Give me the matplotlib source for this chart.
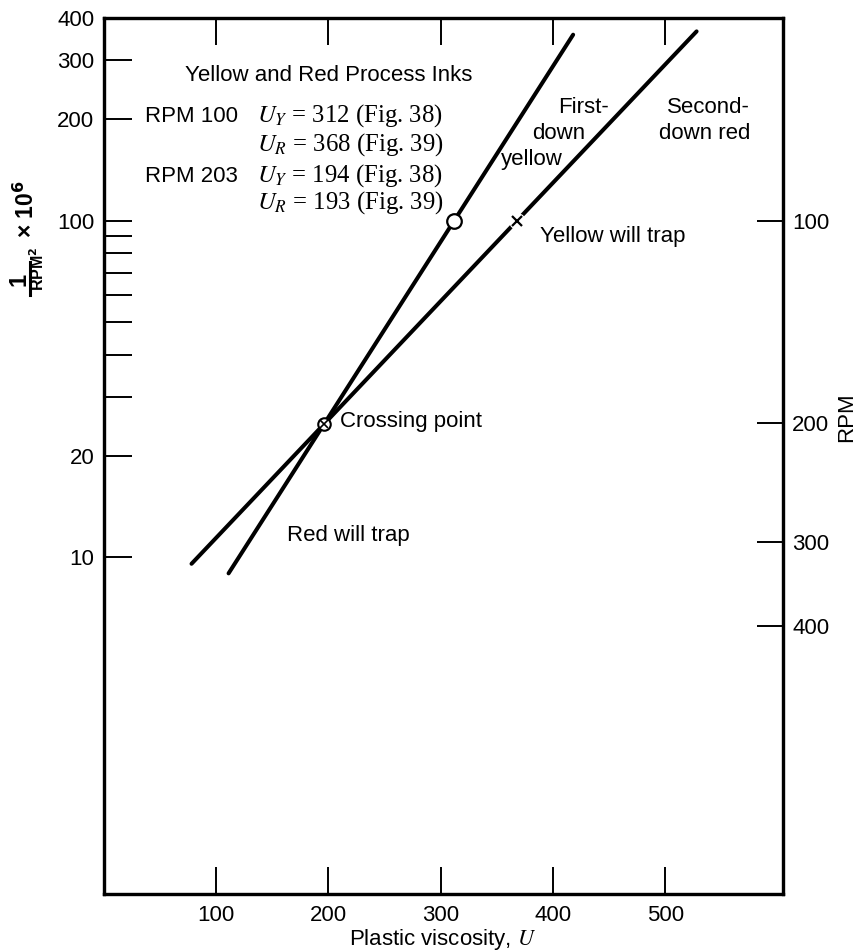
import numpy as np
import matplotlib
matplotlib.use("Agg")
import matplotlib.pyplot as plt
from matplotlib.lines import Line2D
from matplotlib.ticker import FixedLocator, FixedFormatter, NullLocator

plt.rcParams['font.family'] = ['Liberation Sans', 'DejaVu Sans']

# Plastic viscosity (U) of the two process inks at the two test speeds
rpm_levels = [100, 203]
u_yellow = [312, 194]
u_red = [368, 193]
fig_yellow = [38, 38]
fig_red = [39, 39]

# U range covered by each trend line
yellow_span = [111, 418]
red_span = [78, 528]

# Axis ticks
x_ticks = [100, 200, 300, 400, 500]
left_ticks = [10, 20, 30, 40, 50, 60, 70, 80, 90, 100, 200, 300, 400]
left_labels = ["10", "20", "", "", "", "", "", "", "", "100", "200", "300", "400"]
rpm_ticks = [100, 200, 300, 400]

inv_sq = [1e6 / r ** 2 for r in rpm_levels]

W, H = 861, 951
fig = plt.figure(figsize=(W / 100, H / 100), dpi=100)
ax = fig.add_axes([104 / W, 1 - 894 / H, 679 / W, 876 / H])
ax.set_yscale('log')
ax.set_xlim(0, 605)
ax.set_ylim(1, 400)

ax.set_xticks(x_ticks)
ax.yaxis.set_major_locator(FixedLocator(left_ticks))
ax.yaxis.set_major_formatter(FixedFormatter(left_labels))
ax.yaxis.set_minor_locator(NullLocator())
ax.tick_params(axis='x', direction='in', length=19.5, width=1.4, top=True,
               labeltop=False, pad=8, labelsize=16)
ax.tick_params(axis='y', direction='in', length=20, width=1.4, right=False,
               pad=7, labelsize=16)

# RPM scale on the right, placed at 1e6 / RPM^2
ax2 = ax.twinx()
ax2.set_yscale('log')
ax2.set_ylim(1, 400)
ax2.yaxis.set_major_locator(FixedLocator([1e6 / r ** 2 for r in rpm_ticks]))
ax2.yaxis.set_major_formatter(FixedFormatter([str(r) for r in rpm_ticks]))
ax2.yaxis.set_minor_locator(NullLocator())
ax2.tick_params(axis='y', direction='in', length=19, width=1.4, pad=6.5, labelsize=16)

for a in (ax, ax2):
    for s in a.spines.values():
        s.set_linewidth(2.3)

# Straight lines on the log axis through the two measured points of each ink
ky = np.polyfit(u_yellow, np.log10(inv_sq), 1)
kr = np.polyfit(u_red, np.log10(inv_sq), 1)
ax.plot(yellow_span, 10 ** np.polyval(ky, yellow_span), color='black', lw=2.9,
        solid_capstyle='round', zorder=2)
ax.plot(red_span, 10 ** np.polyval(kr, red_span), color='black', lw=2.9,
        solid_capstyle='round', zorder=2)

# Marks at 100 RPM
ax.plot(u_yellow[0], inv_sq[0], 'o', ms=10.5, mfc='white', mec='black', mew=1.6, zorder=4)
ax.plot(u_red[0], inv_sq[0], 'o', ms=12, mfc='white', mec='none', zorder=3)
ax.plot(u_red[0], inv_sq[0], 'x', ms=7.5, mec='black', mew=1.6, zorder=4)

# Crossing of the two lines
u_cross = (kr[1] - ky[1]) / (ky[0] - kr[0])
v_cross = 10 ** np.polyval(ky, u_cross)
ax.plot(u_cross, v_cross, 'o', ms=9, mfc='white', mec='black', mew=1.5, zorder=4)
ax.plot(u_cross, v_cross, 'x', ms=5.5, mec='black', mew=1.2, zorder=5)

T = ax.transAxes
sans = 16
ax.text(0.3314, 0.9281, "Yellow and Red Process Inks", transform=T, ha='center',
        va='baseline', fontsize=sans)
rows_y = [0.8813, 0.8482, 0.8128, 0.7820]
entries = [(f"RPM {rpm_levels[0]}", "Y", u_yellow[0], fig_yellow[0]),
           ("", "R", u_red[0], fig_red[0]),
           (f"RPM {rpm_levels[1]}", "Y", u_yellow[1], fig_yellow[1]),
           ("", "R", u_red[1], fig_red[1])]
for yy, (lab, sub, u, f) in zip(rows_y, entries):
    if lab:
        ax.text(0.0604, yy, lab, transform=T, ha='left', va='baseline', fontsize=sans)
    ax.text(0.2253, yy, f"$U_{sub}$ = {u} (Fig. {f})", transform=T, ha='left',
            va='baseline', fontsize=17.8, family=['Liberation Serif'],
            math_fontfamily='stix')

ax.text(0.6686, 0.8916, "First-", transform=T, ha='left', va='baseline', fontsize=sans)
ax.text(0.6300, 0.8619, "down", transform=T, ha='left', va='baseline', fontsize=sans)
ax.text(0.5850, 0.8322, "yellow", transform=T, ha='left', va='baseline', fontsize=sans)
ax.text(0.8292, 0.8916, "Second-", transform=T, ha='left', va='baseline', fontsize=sans)
ax.text(0.8174, 0.8619, "down red", transform=T, ha='left', va='baseline', fontsize=sans)
ax.text(0.6421, 0.7443, "Yellow will trap", transform=T, ha='left', va='baseline', fontsize=sans)
ax.text(0.3476, 0.5331, "Crossing point", transform=T, ha='left', va='baseline', fontsize=sans)
ax.text(0.2695, 0.4030, "Red will trap", transform=T, ha='left', va='baseline', fontsize=sans)

# Axis titles
fig.text(443 / W, 1 - 945 / H, "Plastic viscosity, $U$", ha='center', va='baseline',
         fontsize=16, math_fontfamily='stix')
fig.text(1 - (W - 847) / W, 1 - 417 / H, "RPM", rotation=90, ha='center', va='center',
         fontsize=16)

# Left title: 1 / RPM^2  x 10^6, set as a vertical stacked fraction
fig.text(19 / W, 1 - 279 / H, "1", rotation=90, ha='center', va='center',
         fontsize=17, fontweight='bold')
fig.add_artist(Line2D([29.5 / W, 29.5 / W], [1 - 262 / H, 1 - 295 / H],
                      transform=fig.transFigure, color='black', lw=2.2))
fig.text(38 / W, 1 - 269 / H, "RPM$^{\\mathbf{2}}$", rotation=90, ha='center', va='center',
         fontsize=11.5, fontweight='bold', math_fontfamily='dejavusans')
fig.text(26 / W, 1 - 209 / H, "× 10$^{\\mathbf{6}}$", rotation=90, ha='center', va='center',
         fontsize=16.5, fontweight='bold', math_fontfamily='dejavusans')

fig.savefig("out.png", dpi=100)
